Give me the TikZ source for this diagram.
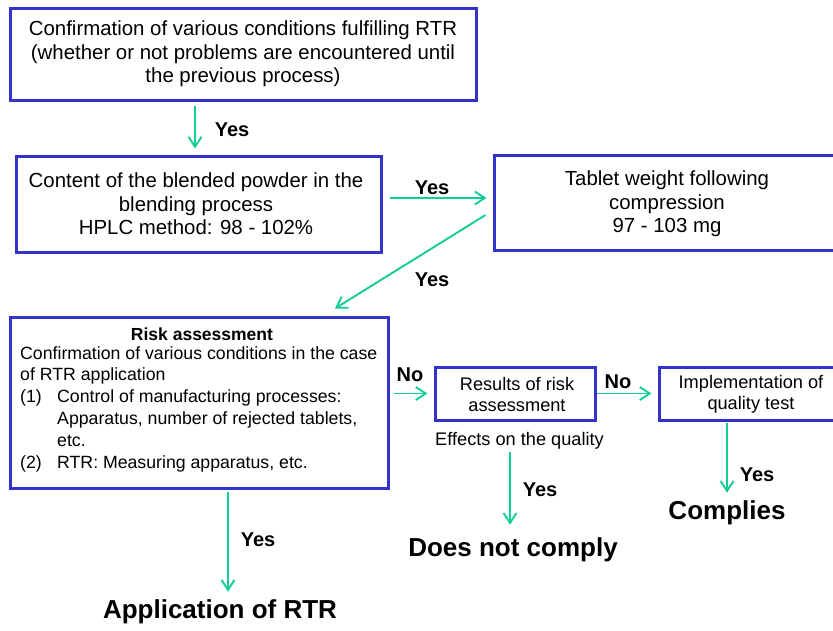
\documentclass[tikz,border=0pt]{standalone}
\usepackage{fontspec}
\setmainfont{Liberation Sans}
\usetikzlibrary{arrows.meta}
\definecolor{boxblue}{RGB}{51,51,204}
\definecolor{arrgreen}{RGB}{20,205,150}
\tikzset{
  box/.style={draw=boxblue, line width=3pt, inner sep=0pt, align=center},
  arr/.style={draw=arrgreen, line width=1.9pt, -{Straight Barb[length=10pt,width=13pt]}},
  yes/.style={font=\fontsize{20}{24}\selectfont\bfseries, inner sep=0pt},
  big/.style={font=\fontsize{26}{30}\selectfont\bfseries, inner sep=0pt},
  t20/.style={font=\fontsize{20.4}{23.5}\selectfont, align=center, inner sep=0pt},
  t18/.style={font=\fontsize{18.2}{21}\selectfont, align=center, inner sep=0pt},
}
\begin{document}
\begin{tikzpicture}[x=1pt,y=-1pt]
\useasboundingbox (0,0) rectangle (833,630);
\clip (0,0) rectangle (833,630);
\node[box, minimum width=466pt, minimum height=92pt] (b1) at (243,54) {};
\node[t20] (t1) at (243,54)
  {Confirmation of various conditions fulfilling RTR\\(whether or not problems are encountered until\\the previous process)};
\node[box, minimum width=365pt, minimum height=96pt] (b2) at (198.5,204) {};
\node[t20] (t2) at (196,204)
  {Content of the blended powder in the\\blending process\\HPLC method: 98 - 102\%};
\node[box, minimum width=346pt, minimum height=95pt] (b3) at (667,202.5) {};
\node[t20] (t3) at (667,204)
  {Tablet weight following\\compression\\97 - 103 mg};
\node[box, minimum width=378pt, minimum height=171pt] (b4) at (199,402.5) {};
\node[font=\fontsize{17.5}{21}\selectfont\bfseries, inner sep=0pt] (t4) at (202,334) {Risk assessment};
\node[font=\fontsize{17.7}{21.8}\selectfont, align=left, inner sep=0pt, anchor=north west] (t4b) at (20,346)
  {Confirmation of various conditions in the case\\of RTR application\\\makebox[37pt][l]{(1)}Control of manufacturing processes:\\\hspace*{37pt}Apparatus, number of rejected tablets,\\\hspace*{37pt}etc.\\\makebox[37pt][l]{(2)}RTR: Measuring apparatus, etc.};
\node[box, minimum width=160pt, minimum height=53pt] (b5) at (515,393.5) {};
\node[t18] (t5) at (517,394.5) {Results of risk\\assessment};
\node[box, minimum width=184pt, minimum height=53pt] (b6) at (751,393.5) {};
\node[t18] (t6) at (751,394.5) {Implementation of\\quality test};
\node[font=\fontsize{18.2}{21}\selectfont, inner sep=0pt, anchor=west] (eff) at (435,441) {Effects on the quality};
\node[big] (dnc) at (513,550) {Does not comply};
\node[big] (comp) at (727,513) {Complies};
\node[big] (app) at (220,612) {Application of RTR};
% coordinates
\coordinate (c1) at (195,0);
\coordinate (c4) at (228,0);
\coordinate (cd) at (335,0);
\coordinate (c5) at (510,0);
\coordinate (c6) at (727,0);
% arrows
\draw[arr] ([yshift=-4pt]b1.south -| c1) -- ([yshift=6pt]b2.north -| c1);
\node[yes] at (232,130) {Yes};
\draw[arr] ([xshift=7pt,yshift=6pt]b2.east) -- ([xshift=-6pt,yshift=6pt]b3.west |- b2.east);
\node[yes] at (432,188) {Yes};
\draw[arr] ([xshift=-7pt,yshift=-12.5pt]b3.west) -- ([yshift=7pt]b4.north -| cd);
\node[yes] at (432,280) {Yes};
\draw[arr] ([xshift=4pt]b4.east |- b5.west) -- ([xshift=-6pt]b5.west);
\node[yes] at (410,375) {No};
\draw[arr] (b5.east) -- ([xshift=-6pt]b6.west);
\node[yes] at (618,382) {No};
\draw[arr] ([yshift=-2pt]eff.south -| c5) -- ([yshift=13pt]dnc.north -| c5);
\node[yes] at (540,490) {Yes};
\draw[arr] ([yshift=-1pt]b6.south -| c6) -- ([yshift=8pt]comp.north -| c6);
\node[yes] at (757,475) {Yes};
\draw[arr] ([yshift=-2pt]b4.south -| c4) -- ([yshift=8pt]app.north -| c4);
\node[yes] at (258,540) {Yes};
\end{tikzpicture}
\end{document}
